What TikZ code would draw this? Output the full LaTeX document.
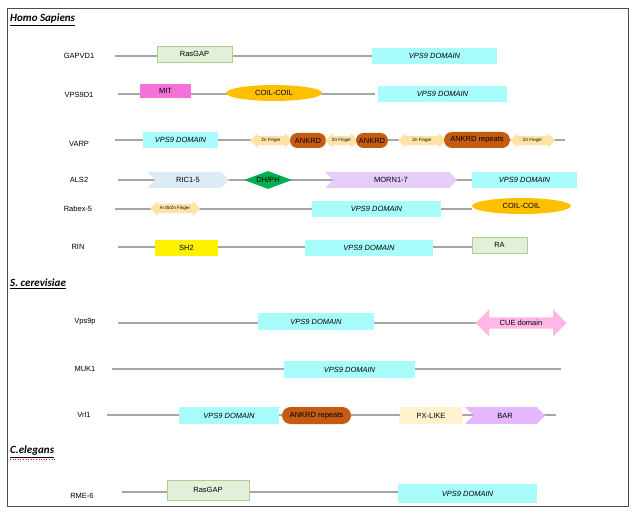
\documentclass[tikz,border=0pt]{standalone}
\usepackage{fontspec}
\setmainfont{Liberation Sans}
\newfontfamily\hdr{Carlito}
\usetikzlibrary{shapes.geometric,shapes.arrows,shapes.symbols,shapes.misc,calc}
\definecolor{vps}{HTML}{A9FCFC}
\definecolor{gapf}{HTML}{E3EFD9}
\definecolor{gapd}{HTML}{A9D18E}
\definecolor{mit}{HTML}{F472D8}
\definecolor{coil}{HTML}{FFC000}
\definecolor{zn}{HTML}{FFE2A6}
\definecolor{ank}{HTML}{C55A11}
\definecolor{ric}{HTML}{DDEBF7}
\definecolor{dh}{HTML}{00B050}
\definecolor{morn}{HTML}{E4CDF9}
\definecolor{cue}{HTML}{FFB7E6}
\definecolor{px}{HTML}{FFF2CC}
\definecolor{bar}{HTML}{E5B7FF}
\tikzset{
  bb/.style={draw=black!70, line width=0.8pt},
  bk/.style={draw=black!35, line width=1.2pt},
  lab/.style={font=\fontsize{7.5}{8}\selectfont, anchor=center},
  hd/.style={font=\hdr\bfseries\itshape\fontsize{11}{12}\selectfont, anchor=west, inner sep=0pt},
  dom/.style={inner sep=0pt, font=\fontsize{7.5}{8}\selectfont},
  vps9/.style={dom, fill=vps, font=\itshape\fontsize{7.5}{8}\selectfont},
  gap/.style={dom, fill=gapf, draw=gapd, line width=0.8pt},
  znf/.style={dom, double arrow, double arrow head extend=1.5pt, double arrow head indent=0pt, fill=zn, font=\fontsize{4.5}{5}\selectfont},
  ankr/.style={dom, rounded rectangle, fill=ank, font=\fontsize{7.5}{8}\selectfont},
  hexa/.style={dom, signal, signal from=west, signal to=east},
  ell/.style={dom, ellipse, fill=coil},
}
\newcommand{\bx}[6]{\node[#1, minimum width=#4-#3, minimum height=#6-#5] (#2) at ({(#3+#4)/2},{(#5+#6)/2})}
\newcommand{\ar}[6]{\node[#1, minimum height=#4-#3, minimum width=#6-#5] (#2) at ({(#3+#4)/2},{(#5+#6)/2})}
\begin{document}
\begin{tikzpicture}[x=1pt,y=-1pt]
\useasboundingbox (0,0) rectangle (633,519);
\node[bb, minimum width=621, minimum height=498, inner sep=0pt] (frame) at (317.5,257) {};
% headers
\node[hd] (h1) at (10,19) {Homo Sapiens};
\draw[line width=0.6pt] ($(h1.south west)+(0,1.5)$) -- ($(h1.south east)+(0,1.5)$);
\node[hd] (h2) at (10,283) {S. cerevisiae};
\draw[line width=0.6pt] ($(h2.south west)+(0,1.5)$) -- ($(h2.south east)+(0,1.5)$);
\node[hd] (h3) at (10,451) {C.elegans};
\draw[line width=0.6pt] ($(h3.south west)+(0,1.5)$) -- ($(h3.south east)+(0,1.5)$);
\draw[red, line width=0.6pt, dotted] ($(h3.south west)+(0,3)$) -- ($(h3.south east)+(0,3)$);
% backbones
\foreach \n/\a/\b/\y in {g/115/372/56, v/118/375/94, r/115/565/140, a/118/565/180, x/115/472/209, n/118/472/247, p/118/476/323, m/112/561/369, l/107/556/415, e/122/398/492}{
  \coordinate (\n s) at (\a,\y); \coordinate (\n e) at (\b,\y);
  \draw[bk] (\n s) -- (\n e);
}
% GAPVD1
\node[lab] (L1) at (79,56) {GAPVD1};
\bx{gap}{g1}{157}{232}{46}{62}{RasGAP};
\bx{vps9}{g2}{372}{497}{48}{64}{VPS9 DOMAIN};
% VPS9D1
\node[lab] (L2) at (79,95) {VPS9D1};
\bx{dom, fill=mit}{v1}{140}{191}{84}{98}{MIT};
\bx{ell}{v2}{226}{322}{85}{101}{COIL-COIL};
\bx{vps9}{v3}{378}{507}{86}{102}{VPS9 DOMAIN};
% VARP
\node[lab] (L3) at (79,144) {VARP};
\bx{vps9}{r1}{143}{218}{132}{148}{VPS9 DOMAIN};
\ar{znf}{r2}{250}{292}{133}{148}{Zn Finger};
\bx{ankr}{r3}{290}{326}{133}{148}{ANKRD};
\ar{znf}{r4}{325}{358}{133}{148}{Zn Finger};
\bx{ankr}{r5}{356}{388}{133}{148}{ANKRD};
\ar{znf}{r6}{398}{446}{133}{148}{Zn Finger};
\bx{ankr}{r7}{444}{510}{132}{148}{ANKRD repeats};
\ar{znf}{r8}{510}{555}{133}{148}{Zn Finger};
% ALS2
\node[lab] (L4) at (79,180) {ALS2};
\bx{hexa, fill=ric}{a1}{147}{229}{172}{188}{RIC1-5};
\bx{dom, diamond, aspect=3, fill=dh}{a2}{244}{292}{171}{189}{DH/PH};
\bx{hexa, fill=morn}{a3}{325}{457}{172}{188}{MORN1-7};
\bx{vps9}{a4}{472}{577}{172}{188}{VPS9 DOMAIN};
% Rabex-5
\node[lab] (L5) at (78,209) {Rabex-5};
\ar{znf}{x1}{150}{200}{201}{216}{A-20/Zn Finger};
\bx{vps9}{x2}{312}{441}{201}{217}{VPS9 DOMAIN};
\bx{ell}{x3}{472}{571}{198}{214}{COIL-COIL};
% RIN
\node[lab] (L6) at (78,247) {RIN};
\bx{dom, fill=yellow}{n1}{155}{218}{240}{256}{SH2};
\bx{vps9}{n2}{305}{433}{240}{256}{VPS9 DOMAIN};
\bx{gap}{n3}{472}{527}{237}{253}{RA};
% Vps9p
\node[lab] (L7) at (85,322) {Vps9p};
\bx{vps9}{p1}{258}{374}{313}{330}{VPS9 DOMAIN};
\node[dom, double arrow, double arrow head extend=4pt, double arrow head indent=0pt, fill=cue, minimum height=91, minimum width=27] (p2) at (521,323) {CUE domain};
% MUK1
\node[lab] (L8) at (85,369) {MUK1};
\bx{vps9}{m1}{284}{415}{361}{378}{VPS9 DOMAIN};
% Vrl1
\node[lab] (L9) at (84,415) {Vrl1};
\bx{vps9}{l1}{179}{279}{407}{424}{VPS9 DOMAIN};
\bx{ankr}{l2}{282}{351}{407}{424}{ANKRD repeats};
\bx{dom, trapezium, trapezium stretches body, trapezium left angle=75, trapezium right angle=75, fill=px}{l3}{399}{463}{407}{424}{PX-LIKE};
\bx{hexa, fill=bar}{l4}{465}{545}{407}{424}{BAR};
% RME-6
\node[lab] (L10) at (82,496) {RME-6};
\bx{gap}{e1}{167}{249}{480}{500}{RasGAP};
\bx{vps9}{e2}{398}{537}{484}{503}{VPS9 DOMAIN};
\end{tikzpicture}
\end{document}
